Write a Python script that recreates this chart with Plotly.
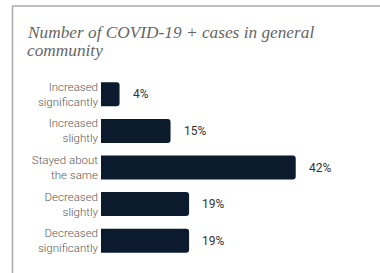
import plotly.graph_objects as go

categories = ["Increased<br>significantly", "Increased<br>slightly", "Stayed about<br>the same",
              "Decreased<br>slightly", "Decreased<br>significantly"]
values = [4, 15, 42, 19, 19]
value_labels = ["4%", "15%", "42%", "19%", "19%"]
title_lines = ["Number of COVID-19 + cases in general", "community"]

W, H = 380, 273
L, R, T, B = 101, 24, 76, 14
pw = W - L - R
ph = H - T - B

def px_x(p):
    return (p - L) / pw

def px_y(p):
    return (H - B - p) / ph

fig = go.Figure()
fig.add_trace(go.Bar(
    x=values, y=categories, orientation="h",
    marker=dict(color="#0b1a2c", line=dict(width=0)),
    hoverinfo="skip",
))

annotations = []
for v, c, t in zip(values, categories, value_labels):
    annotations.append(dict(x=v, y=c, xref="x", yref="y", text=t, showarrow=False,
                            xanchor="left", xshift=11,
                            font=dict(family="Roboto", size=12, color="#333333")))
for i, line in enumerate(title_lines):
    annotations.append(dict(x=px_x(25), y=px_y(20.5 + 18.5 * i), xref="paper", yref="paper", text=line,
                            showarrow=False, xanchor="left", yanchor="top", align="left",
                            font=dict(family="Liberation Serif", size=17.3, color="#666666",
                                      style="italic")))

shapes = [
    dict(type="line", xref="paper", yref="paper", x0=px_x(12.5), x1=px_x(12.5),
         y0=px_y(6), y1=px_y(H + 5), line=dict(color="#a8a8a8", width=1.5)),
    dict(type="line", xref="paper", yref="paper", x0=px_x(12.5), x1=px_x(W + 5),
         y0=px_y(6), y1=px_y(6), line=dict(color="#a8a8a8", width=1.5)),
]

fig.update_layout(
    width=W, height=H,
    margin=dict(l=L, r=R, t=T, b=B, pad=0, autoexpand=False),
    paper_bgcolor="white", plot_bgcolor="white",
    showlegend=False,
    bargap=0.345,
    barcornerradius=3,
    xaxis=dict(range=[0, 55], visible=False, fixedrange=True, automargin=False),
    yaxis=dict(autorange="reversed", showgrid=False, zeroline=False, showline=False,
               ticks="", automargin=False,
               tickfont=dict(family="Roboto", size=11.5, color="#5a5a5a", weight=300),
               ticklabelstandoff=2, fixedrange=True),
    annotations=annotations,
    shapes=shapes,
)

fig.write_html("out.html", config={"displayModeBar": False},
               post_script="document.body.style.margin='0';document.body.style.overflow='hidden';")
